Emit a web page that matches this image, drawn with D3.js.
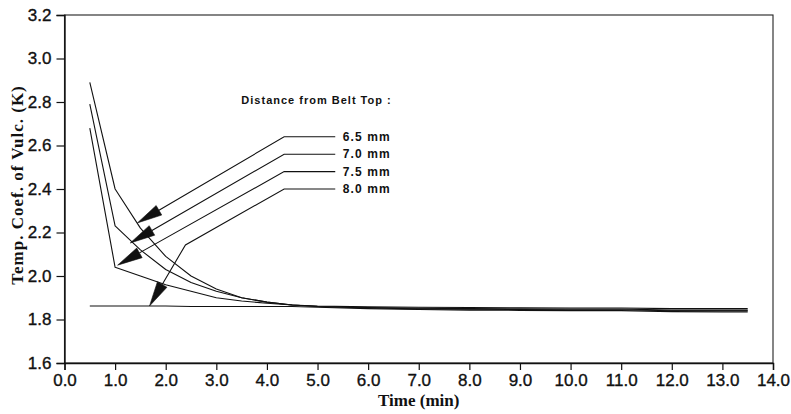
<!DOCTYPE html>
<html>
<head>
<meta charset="utf-8">
<script src="https://cdn.jsdelivr.net/npm/d3@7"></script>
<style>
  html, body { margin: 0; padding: 0; background: #fff; }
  svg { display: block; }
  .tick text { font-family: "Liberation Sans", Arial, sans-serif; font-size: 17px; fill: #111; stroke: #111; stroke-width: 0.35px; }
</style>
</head>
<body>
<svg id="chart" width="791" height="414"></svg>
<script>
// Sampling times (min)
const times = [0.5, 1.0, 1.5, 2.0, 2.5, 3.0, 3.5, 4.0, 4.5, 5.0, 6.0, 7.0, 8.0, 9.0, 10.0, 11.0, 12.0, 13.0, 13.5];

// Temperature coefficient of vulcanization at each depth below belt top
const depthLabels = ["6.5 mm", "7.0 mm", "7.5 mm", "8.0 mm"];
const k65 = [2.89, 2.40, 2.22, 2.09, 2.00, 1.94, 1.90, 1.88, 1.867, 1.862, 1.858, 1.856, 1.855, 1.854, 1.853, 1.853, 1.850, 1.850, 1.850];
const k70 = [2.79, 2.23, 2.12, 2.03, 1.97, 1.93, 1.90, 1.88, 1.867, 1.860, 1.855, 1.852, 1.850, 1.849, 1.848, 1.848, 1.843, 1.843, 1.843];
const k75 = [2.68, 2.04, 2.00, 1.96, 1.93, 1.90, 1.885, 1.875, 1.867, 1.860, 1.853, 1.849, 1.847, 1.846, 1.845, 1.845, 1.840, 1.840, 1.840];
const k80 = [1.862, 1.862, 1.862, 1.862, 1.860, 1.860, 1.860, 1.860, 1.860, 1.856, 1.850, 1.846, 1.843, 1.842, 1.841, 1.841, 1.836, 1.835, 1.835];
const seriesValues = [k65, k70, k75, k80];

// Axis ticks
const xTicks = d3.range(0, 14.01, 1);
const yTicks = d3.range(1.6, 3.201, 0.2);

// Callout anchors, in data units (time, K)
const calloutTitle = "Distance from Belt Top :";
const calloutTitleAt = [4.98, 2.81];
const calloutLevels = [2.64, 2.56, 2.48, 2.40];
const calloutElbowT = 4.34;
const calloutEndT = 5.35;
const calloutTextT = 5.5;
const arrowTips = [[1.44, 2.244], [1.30, 2.152], [1.05, 2.05], [1.68, 1.862]];
const arrowBends = [null, null, null, [2.39, 2.143]];

const svg = d3.select("#chart");
const margin = { left: 64.5, right: 18, top: 15, bottom: 51 };
const W = 791, H = 414;

const x = d3.scaleLinear().domain([0, 14]).range([margin.left, W - margin.right]);
const y = d3.scaleLinear().domain([1.6, 3.2]).range([H - margin.bottom, margin.top]);

// Plot frame
svg.append("rect")
  .attr("x", x(0)).attr("y", y(3.2))
  .attr("width", x(14) - x(0)).attr("height", y(1.6) - y(3.2))
  .attr("fill", "none").attr("stroke", "#222").attr("stroke-width", 1.1);

// Axes
const xAxis = svg.append("g")
  .attr("transform", `translate(0,${y(1.6)})`)
  .call(d3.axisBottom(x).tickValues(xTicks).tickFormat(d3.format(".1f")).tickSize(7).tickPadding(4));
const yAxis = svg.append("g")
  .attr("transform", `translate(${x(0)},0)`)
  .call(d3.axisLeft(y).tickValues(yTicks).tickFormat(d3.format(".1f")).tickSize(8).tickPadding(5));
[xAxis, yAxis].forEach(g => {
  g.select(".domain").attr("stroke", "#111").attr("stroke-width", 1.4);
  g.selectAll(".tick line").attr("stroke", "#111").attr("stroke-width", 1.2);
});

// Curves
const line = d3.line().x(d => x(d[0])).y(d => y(d[1]));
seriesValues.forEach(vals => {
  svg.append("path")
    .attr("d", line(times.map((t, i) => [t, vals[i]])))
    .attr("fill", "none").attr("stroke", "#111").attr("stroke-width", 1.1)
    .attr("stroke-linejoin", "round");
});

// Callout title
svg.append("text")
  .attr("x", x(calloutTitleAt[0])).attr("y", y(calloutTitleAt[1]))
  .attr("text-anchor", "middle").attr("dominant-baseline", "central")
  .attr("font-family", "Liberation Sans, Arial, sans-serif")
  .attr("font-weight", "bold").attr("font-size", 11).attr("letter-spacing", 1)
  .attr("fill", "#111")
  .text(calloutTitle);

// Callout leaders with arrowheads
const headLen = 25, headHalf = 5.5;
depthLabels.forEach((lab, i) => {
  const tip = [x(arrowTips[i][0]), y(arrowTips[i][1])];
  const elbow = [x(calloutElbowT), y(calloutLevels[i])];
  const end = [x(calloutEndT), y(calloutLevels[i])];
  const bend = arrowBends[i] ? [x(arrowBends[i][0]), y(arrowBends[i][1])] : null;
  const toward = bend || elbow;
  const dx = toward[0] - tip[0], dy = toward[1] - tip[1];
  const len = Math.hypot(dx, dy);
  const ux = dx / len, uy = dy / len;
  const base = [tip[0] + ux * headLen, tip[1] + uy * headLen];
  const pts = [base].concat(bend ? [bend] : [], [elbow, end]);
  svg.append("path")
    .attr("d", d3.line()(pts))
    .attr("fill", "none").attr("stroke", "#111").attr("stroke-width", 1.1);
  const px = -uy, py = ux;
  svg.append("path")
    .attr("d", d3.line()([
      tip,
      [base[0] + px * headHalf, base[1] + py * headHalf],
      [base[0] - px * headHalf, base[1] - py * headHalf]
    ]) + "Z")
    .attr("fill", "#111").attr("stroke", "#111").attr("stroke-width", 0.6);
  svg.append("text")
    .attr("x", x(calloutTextT)).attr("y", y(calloutLevels[i]))
    .attr("dominant-baseline", "central")
    .attr("font-family", "Liberation Sans, Arial, sans-serif")
    .attr("font-weight", "bold").attr("font-size", 12).attr("letter-spacing", 1.1)
    .attr("fill", "#111")
    .text(lab);
});

// Axis titles
svg.append("text")
  .attr("x", (x(0) + x(14)) / 2).attr("y", 406)
  .attr("text-anchor", "middle")
  .attr("font-family", "Liberation Serif, Times New Roman, serif")
  .attr("font-weight", "bold").attr("font-size", 17)
  .attr("fill", "#111")
  .text("Time (min)");
svg.append("text")
  .attr("transform", `translate(23,${(y(1.6) + y(3.2)) / 2 - 4}) rotate(-90)`)
  .attr("text-anchor", "middle")
  .attr("font-family", "Liberation Serif, Times New Roman, serif")
  .attr("font-weight", "bold").attr("font-size", 17).attr("letter-spacing", 1)
  .attr("fill", "#111")
  .text("Temp. Coef. of Vulc. (K)");
</script>
</body>
</html>
